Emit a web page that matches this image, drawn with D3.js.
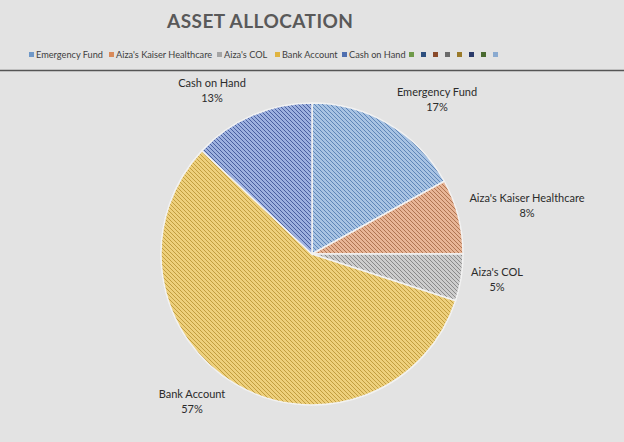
<!DOCTYPE html>
<html><head><meta charset="utf-8">
<script src="https://cdn.jsdelivr.net/npm/d3@7"></script>
<style>html,body{margin:0;padding:0;background:#e3e3e3;}svg{display:block;}</style>
</head><body>
<svg id="c" width="624" height="442"></svg>
<script>
const categories = ["Emergency Fund", "Aiza's Kaiser Healthcare", "Aiza's COL", "Bank Account", "Cash on Hand"];
const values = [17, 8, 5, 57, 13];
const baseColors = ["#a8c3e3", "#e8b596", "#cdcdcd", "#eed07c", "#9db1df"];
const stripeColors = ["#5f86b8", "#b07552", "#8a8a8a", "#c29e40", "#4a60a0"];
const legendColors = ["#6f98c8", "#d98a5a", "#a5a5a5", "#e0b440", "#4f6fb0"];
const extraLegendColors = ["#6f9a4a", "#2d4f7e", "#8a4a2a", "#6a6a6a", "#9a7a2a", "#2a3a6a", "#4a6a30", "#8aaad0"];
const legendX = [29, 109, 217, 275, 342];
const labelPos = [[437, 96], [527, 202], [497, 276], [192, 398], [212, 87]];

const svg = d3.select("#c");
const W = 624, H = 442;
svg.append("rect").attr("width", W).attr("height", H).attr("fill", "#e3e3e3");

const defs = svg.append("defs");
categories.forEach((c, i) => {
  const p = defs.append("pattern").attr("id", "hatch" + i).attr("patternUnits", "userSpaceOnUse")
    .attr("width", 4).attr("height", 4);
  p.append("rect").attr("width", 4).attr("height", 4).attr("fill", baseColors[i]);
  p.append("path").attr("d", "M-1,-1 L5,5 M-1,3 L1,5 M3,-1 L5,1")
    .attr("stroke", stripeColors[i]).attr("stroke-width", 1);
});

svg.append("text").attr("x", 167).attr("y", 28)
  .attr("font-family", "Lato, sans-serif").attr("font-weight", "bold").attr("font-size", 19)
  .attr("textLength", 186).attr("lengthAdjust", "spacing")
  .attr("fill", "#595959").text("ASSET ALLOCATION");

// legend
const lg = svg.append("g").attr("font-family", "Lato, sans-serif").attr("font-size", 9.2).attr("fill", "#404040");
categories.forEach((c, i) => {
  const x = legendX[i];
  lg.append("rect").attr("x", x).attr("y", 52).attr("width", 5).attr("height", 5).attr("fill", legendColors[i]);
  lg.append("text").attr("x", x + 7).attr("y", 58).text(c);
});
const ex = d3.scaleLinear().domain([0, 7]).range([409, 493]);
extraLegendColors.forEach((col, i) => {
  lg.append("rect").attr("x", ex(i)).attr("y", 52).attr("width", 5).attr("height", 5).attr("fill", col);
});
svg.append("line").attr("x1", 0).attr("x2", W).attr("y1", 70.5).attr("y2", 70.5)
  .attr("stroke", "#555").attr("stroke-width", 1.5);

// pie
const cx = 312, cy = 254, r = 151;
const pie = d3.pie().sort(null).value(d => d)(values);
const arc = d3.arc().innerRadius(0).outerRadius(r);
const g = svg.append("g").attr("transform", `translate(${cx},${cy})`);
g.selectAll("path").data(pie).join("path")
  .attr("d", arc).attr("fill", (d, i) => `url(#hatch${i})`)
  .attr("stroke", "#f2f2f2").attr("stroke-width", 1.5);

const lab = svg.append("g").attr("font-family", "Lato, sans-serif").attr("font-size", 11).attr("fill", "#2b2b2b")
  .attr("text-anchor", "middle");
pie.forEach((d, i) => {
  const [lx, ly] = labelPos[i];
  lab.append("text").attr("x", lx).attr("y", ly).text(categories[i]);
  lab.append("text").attr("x", lx).attr("y", ly + 15).text(d3.format(".0%")(d.value / d3.sum(values)));
});
</script>
</body></html>
